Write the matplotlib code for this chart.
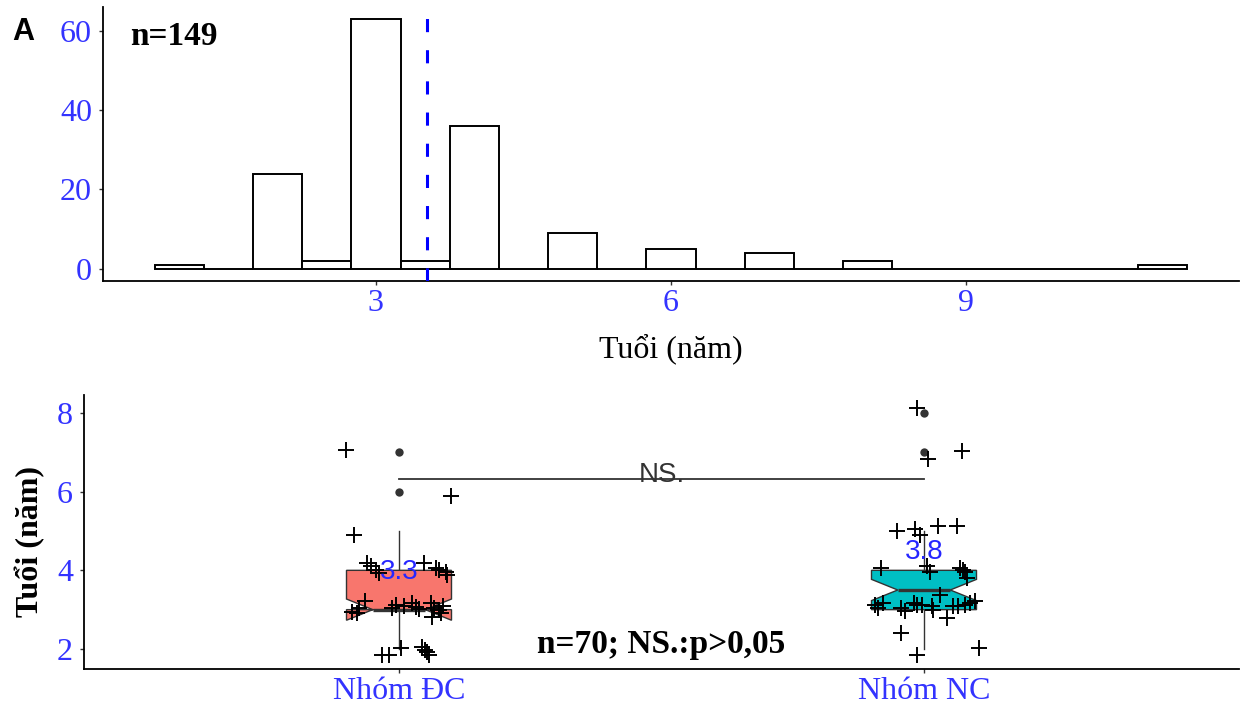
import matplotlib
matplotlib.use("Agg")
import matplotlib.pyplot as plt
from matplotlib.patches import Polygon

# ---------------- data ----------------
# Panel A: histogram of age (years), bins of width 0.5
bin_centers = [1.0, 1.5, 2.0, 2.5, 3.0, 3.5, 4.0, 4.5, 5.0, 5.5, 6.0,
               6.5, 7.0, 7.5, 8.0, 8.5, 9.0, 9.5, 10.0, 10.5, 11.0]
bin_counts = [1, 0, 24, 2, 63, 2, 36, 0, 9, 0, 5,
              0, 4, 0, 2, 0, 0, 0, 0, 0, 1]
mean_age = 3.52
hist_xticks = [3, 6, 9]
hist_yticks = [0, 20, 40, 60]

# Panel B: notched boxplots by group
groups = ["Nhóm ĐC", "Nhóm NC"]
group_colors = ["#F8766D", "#00BFC4"]
q1 = [3.0, 3.0]
median = [3.0, 3.5]
q3 = [4.0, 4.0]
notch_lo = [2.73, 3.23]
notch_hi = [3.27, 3.77]
whisk_lo = [2.0, 2.0]
whisk_hi = [5.0, 5.0]
outliers = [[7.0, 6.0], [8.0, 7.0]]
group_means = [3.3, 3.8]
box_yticks = [2, 4, 6, 8]

# jittered observations: horizontal offset from group centre, age value (as drawn)
dc_dx = [-0.101, 0.099, -0.086, -0.061, -0.044, 0.048, 0.071, 0.076, 0.090,
         -0.064, -0.090, -0.076, -0.006, -0.013, 0.025, 0.032, 0.061, 0.067,
         0.076, 0.080, 0.063, -0.032, -0.019, 0.004, 0.044, 0.053, 0.050,
         -0.038, 0.092, 0.010, 0.038, 0.084, -0.080, 0.057, -0.053]
dc_y = [7.05, 5.88, 4.91, 4.19, 4.02, 4.19, 4.07, 4.02, 3.97,
        3.21, 2.95, 3.05, 3.12, 3.05, 3.17, 3.07, 3.17, 3.05,
        3.00, 2.92, 2.82, 1.85, 1.85, 2.02, 2.06, 1.93, 1.98,
        3.94, 3.89, 3.10, 3.02, 3.10, 2.92, 1.85, 4.12]
nc_dx = [-0.014, 0.008, 0.072, -0.052, -0.017, -0.008, 0.027, 0.062, 0.005,
         0.011, -0.081, 0.069, 0.075, 0.078, 0.081, 0.031, -0.094, -0.088,
         -0.043, -0.036, -0.020, -0.014, -0.004, 0.015, 0.018, 0.056, 0.065,
         0.078, 0.088, 0.097, 0.043, -0.043, -0.014, 0.104, -0.078]
nc_y = [8.14, 6.82, 7.03, 4.99, 5.04, 4.91, 5.12, 5.12, 4.10,
        3.97, 4.06, 4.06, 4.02, 3.97, 3.80, 3.38, 3.12, 3.05,
        3.04, 2.97, 3.17, 3.12, 3.12, 3.08, 3.00, 3.08, 3.08,
        3.12, 3.17, 3.21, 2.78, 2.40, 1.85, 2.02, 3.17]
jitter_dx = [dc_dx, nc_dx]
jitter_y = [dc_y, nc_y]

sig_label = "NS."
note_top = "n=149"
note_bottom = "n=70; NS.:p>0,05"
xlabel_top = "Tuổi (năm)"
ylabel_bottom = "Tuổi (năm)"

# ---------------- style ----------------
SERIF = ["Liberation Serif", "DejaVu Serif"]
SANS = ["Liberation Sans", "DejaVu Sans"]
TICK_BLUE = "#3333FF"
GREY20 = "#333333"
FS = 23

W, H = 1248, 713
fig = plt.figure(figsize=(W / 100, H / 100), dpi=100)


def px_axes(left, top, right, bottom):
    return fig.add_axes([left / W, 1 - bottom / H, (right - left) / W, (bottom - top) / H])


def classic(ax):
    for s in ("top", "right"):
        ax.spines[s].set_visible(False)
    for s in ("left", "bottom"):
        ax.spines[s].set_color("black")
        ax.spines[s].set_linewidth(1.3)
    ax.tick_params(axis="both", length=3, width=1, color=GREY20,
                   labelcolor=TICK_BLUE, labelsize=FS)
    ax.tick_params(axis="x", pad=3)
    ax.tick_params(axis="y", pad=5)
    for lab in ax.get_xticklabels() + ax.get_yticklabels():
        lab.set_fontfamily(SERIF)


# ---------------- Panel A ----------------
ax1 = px_axes(103, 7, 1239, 281)
ax1.bar(bin_centers, bin_counts, width=0.5, facecolor="white",
        edgecolor="black", linewidth=1.4, zorder=2)
ax1.axvline(mean_age, color="#0000FF", linewidth=2.2,
            linestyle=(0, (4.3, 5.9)), zorder=3)
ax1.set_xlim(0.225, 11.775)
ax1.set_ylim(-3.15, 66.15)
ax1.set_xticks(hist_xticks)
ax1.set_yticks(hist_yticks)
classic(ax1)
ax1.set_xlabel(xlabel_top, fontsize=FS, family=SERIF, color="black")
ax1.xaxis.set_label_coords(0.5, -0.19)
ax1.text(0.024, 0.861, note_top, transform=ax1.transAxes, ha="left",
         va="baseline", fontsize=FS + 1, fontweight="bold", family=SERIF, color="black")
fig.text(12 / W, 1 - 40 / H, "A", ha="left", va="baseline", fontsize=22,
         fontweight="bold", family=SANS, color="black")

# ---------------- Panel B ----------------
ax2 = px_axes(84, 395, 1239, 669)
half = 0.1
indent = (1 - 0.5) * (2 * half) / 2
for i in range(len(groups)):
    xc = i + 1
    xmin, xmax = xc - half, xc + half
    # whiskers
    ax2.plot([xc, xc], [q3[i], whisk_hi[i]], color=GREY20, lw=1.0, zorder=2)
    ax2.plot([xc, xc], [q1[i], whisk_lo[i]], color=GREY20, lw=1.0, zorder=2)
    # notched box (ggplot-style polygon)
    xs = [xmin, xmin, xmin + indent, xmin, xmin, xmax, xmax, xmax - indent, xmax, xmax, xmin]
    ys = [q3[i], notch_hi[i], median[i], notch_lo[i], q1[i], q1[i], notch_lo[i],
          median[i], notch_hi[i], q3[i], q3[i]]
    ax2.add_patch(Polygon(list(zip(xs, ys)), closed=True, facecolor=group_colors[i],
                          edgecolor=GREY20, linewidth=1.0, zorder=3))
    ax2.plot([xmin + indent, xmax - indent], [median[i], median[i]],
             color=GREY20, lw=2.4, zorder=4, solid_capstyle="butt")
    # outliers
    ax2.plot([xc] * len(outliers[i]), outliers[i], "o", color=GREY20,
             markersize=6, markeredgewidth=0, zorder=4)
    # jittered points
    ax2.plot([xc + d for d in jitter_dx[i]], jitter_y[i], "+", color="black",
             markersize=11, markeredgewidth=1.4, zorder=5)
    # mean label
    ax2.text(xc, group_means[i] + 0.66, f"{group_means[i]:.1f}", ha="center",
             va="center", fontsize=20, family=SANS, color="#2626FF", zorder=6)

# significance bracket
ax2.plot([1, 2], [6.32, 6.32], color=GREY20, lw=1.3, zorder=2)
ax2.text(1.5, 6.24, sig_label, ha="center", va="baseline", fontsize=20,
         family=SANS, color=GREY20, zorder=6)
ax2.text(1.5, 1.9, note_bottom, ha="center", va="baseline", fontsize=FS + 1,
         fontweight="bold", family=SERIF, color="black", zorder=6)

ax2.set_xlim(0.4, 2.6)
ax2.set_ylim(1.49, 8.46)
ax2.set_xticks([1, 2])
ax2.set_xticklabels(groups)
ax2.set_yticks(box_yticks)
classic(ax2)
ax2.set_ylabel(ylabel_bottom, fontsize=FS, fontweight="bold", family=SERIF, color="black")
ax2.yaxis.set_label_coords(-0.034, 0.464)

fig.savefig("out.png", dpi=100)
